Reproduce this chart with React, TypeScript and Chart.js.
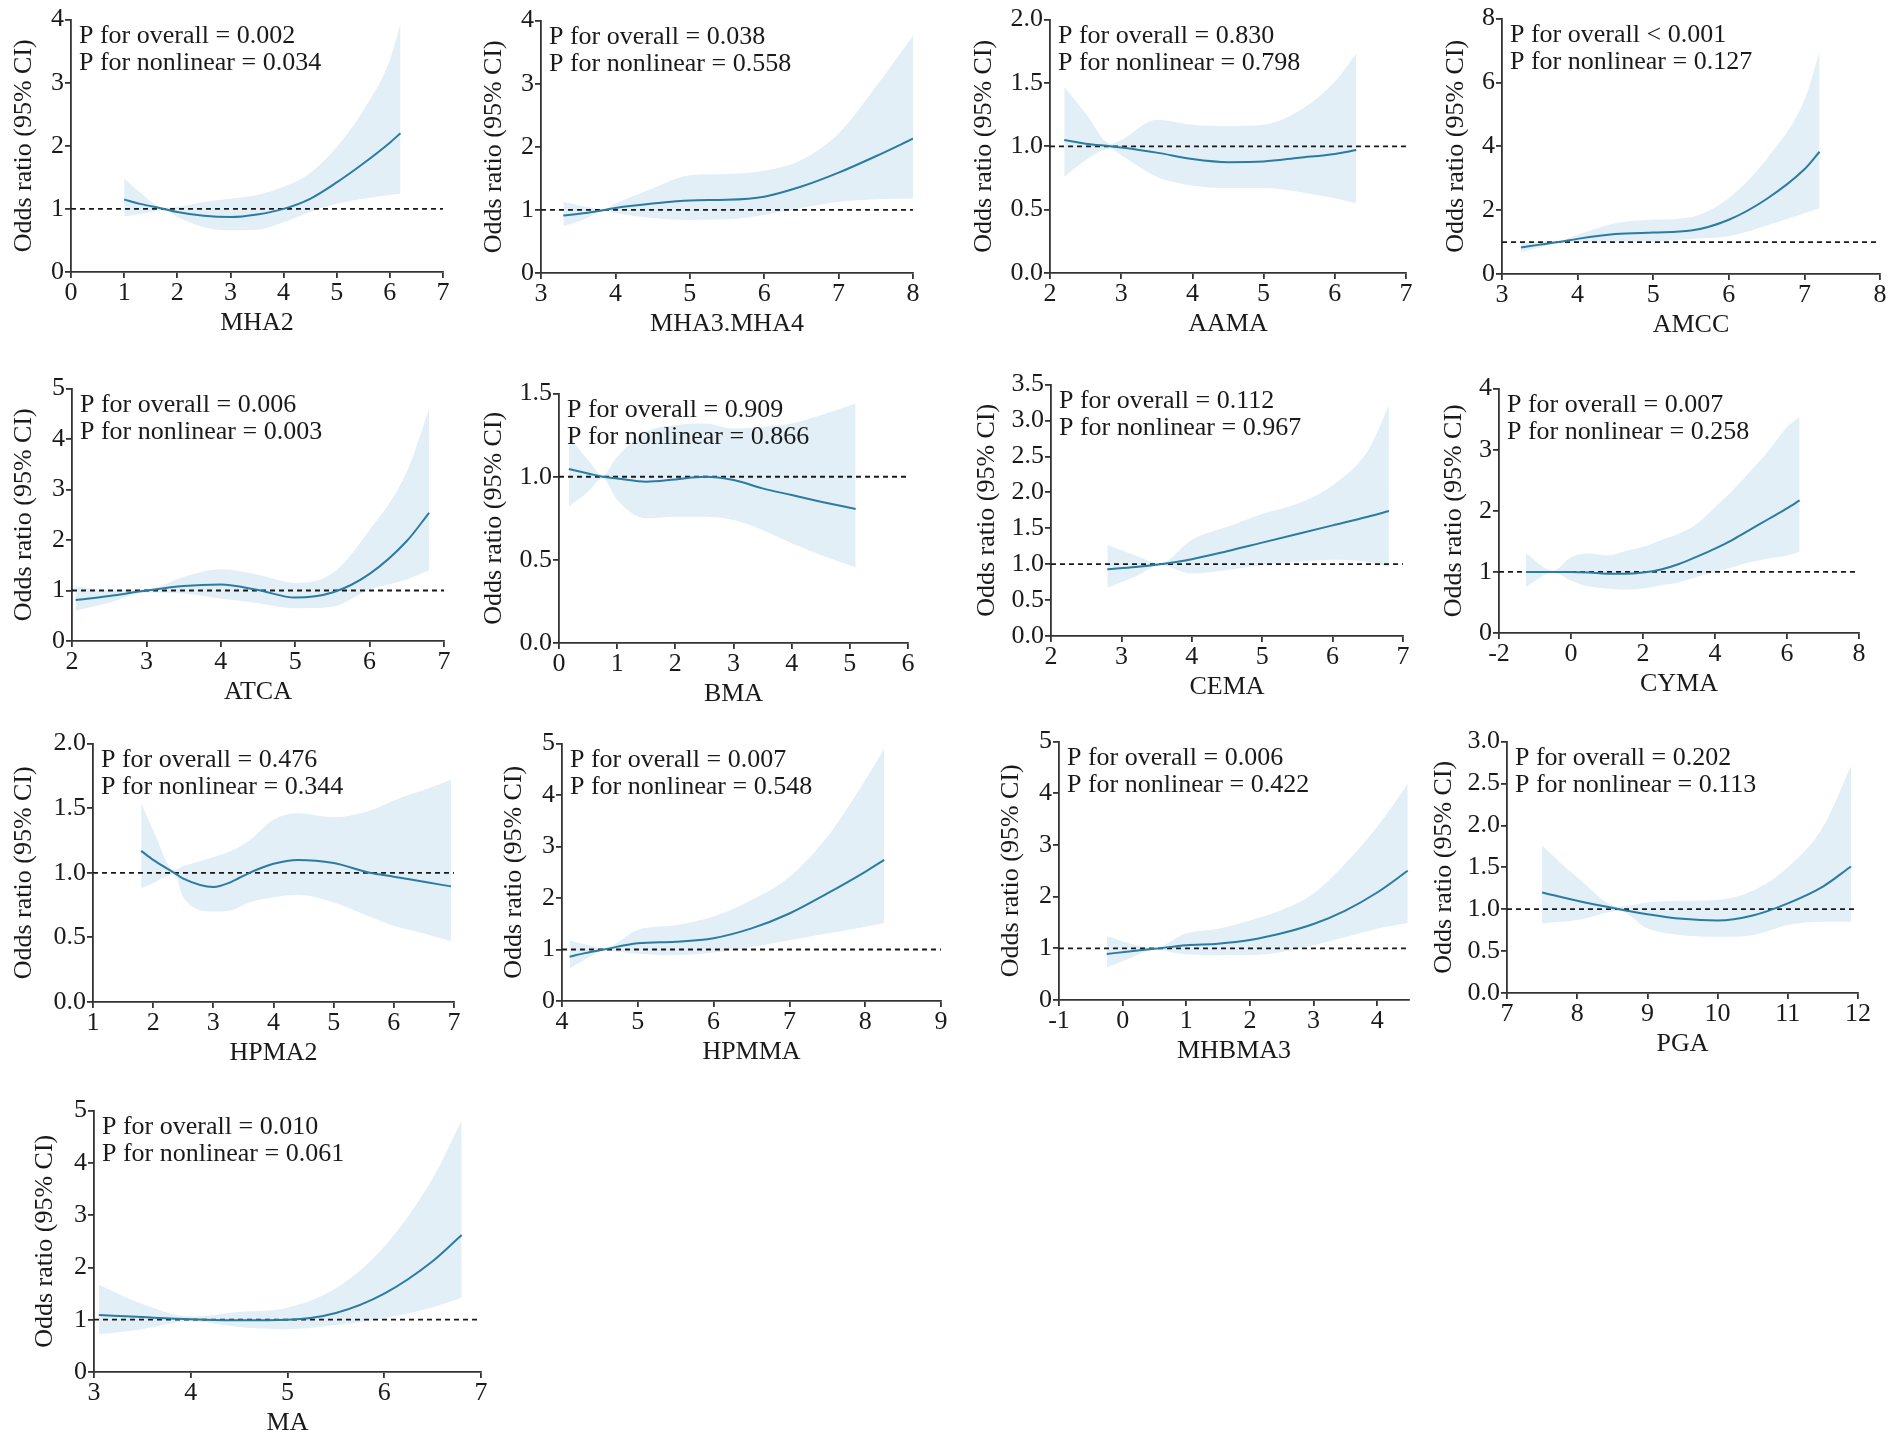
import React, { useEffect, useRef } from "react";
import { Chart, registerables } from "chart.js";

Chart.register(...registerables);

// ---------- data ----------
const mha2X = [1.0, 1.3, 1.75, 2.0, 2.5, 3.0, 3.5, 4.0, 4.5, 5.0, 5.5, 6.0, 6.2];
const mha2Or = [1.15, 1.08, 1.0, 0.95, 0.89, 0.87, 0.91, 1.0, 1.16, 1.42, 1.72, 2.05, 2.2];
const mha2Lo = [0.88, 0.92, 0.98, 0.87, 0.71, 0.66, 0.67, 0.79, 0.95, 1.08, 1.16, 1.22, 1.24];
const mha2Hi = [1.48, 1.26, 1.02, 1.03, 1.11, 1.16, 1.22, 1.35, 1.57, 1.98, 2.56, 3.36, 3.94];

const mha34X = [3.3, 3.6, 3.85, 4.0, 4.5, 5.0, 5.5, 6.0, 6.5, 7.0, 7.5, 8.0];
const mha34Or = [0.91, 0.95, 1.0, 1.03, 1.1, 1.15, 1.16, 1.21, 1.37, 1.59, 1.85, 2.13];
const mha34Lo = [0.74, 0.86, 0.99, 0.95, 0.87, 0.84, 0.85, 0.92, 1.03, 1.13, 1.17, 1.18];
const mha34Hi = [1.13, 1.05, 1.01, 1.1, 1.34, 1.55, 1.57, 1.62, 1.79, 2.21, 2.95, 3.76];

const aamaX = [2.2, 2.5, 2.85, 3.0, 3.5, 4.0, 4.5, 5.0, 5.5, 6.0, 6.3];
const aamaOr = [1.05, 1.02, 1.0, 0.99, 0.95, 0.9, 0.875, 0.88, 0.91, 0.94, 0.97];
const aamaLo = [0.76, 0.89, 0.98, 0.93, 0.76, 0.69, 0.67, 0.67, 0.64, 0.59, 0.55];
const aamaHi = [1.47, 1.26, 1.02, 1.05, 1.21, 1.17, 1.16, 1.17, 1.28, 1.51, 1.73];

const amccX = [3.25, 3.5, 3.75, 4.0, 4.5, 5.0, 5.5, 6.0, 6.5, 7.0, 7.2];
const amccOr = [0.83, 0.92, 1.0, 1.1, 1.25, 1.3, 1.36, 1.7, 2.35, 3.28, 3.83];
const amccLo = [0.69, 0.83, 0.97, 1.0, 1.02, 1.02, 1.1, 1.18, 1.52, 1.9, 2.06];
const amccHi = [0.99, 1.01, 1.03, 1.23, 1.59, 1.7, 1.78, 2.38, 3.6, 5.45, 6.96];

const atcaX = [2.05, 2.5, 3.0, 3.5, 4.0, 4.5, 5.0, 5.5, 6.0, 6.5, 6.8];
const atcaOr = [0.81, 0.89, 1.0, 1.09, 1.12, 1.01, 0.86, 0.96, 1.33, 1.98, 2.54];
const atcaLo = [0.6, 0.76, 0.96, 0.94, 0.84, 0.75, 0.65, 0.68, 1.02, 1.22, 1.4];
const atcaHi = [1.08, 1.01, 1.02, 1.27, 1.42, 1.31, 1.15, 1.34, 2.2, 3.35, 4.6];

const bmaX = [0.17, 0.5, 0.75, 1.0, 1.5, 2.0, 2.5, 3.0, 3.5, 4.0, 4.5, 5.1];
const bmaOr = [1.046, 1.02, 1.0, 0.99, 0.97, 0.984, 1.0, 0.98, 0.93, 0.89, 0.85, 0.806];
const bmaLo = [0.82, 0.91, 0.99, 0.86, 0.75, 0.76, 0.76, 0.74, 0.68, 0.6, 0.53, 0.456];
const bmaHi = [1.24, 1.1, 1.01, 1.12, 1.27, 1.31, 1.32, 1.29, 1.3, 1.32, 1.37, 1.44];

const cemaX = [2.8, 3.2, 3.55, 4.0, 4.5, 5.0, 5.5, 6.0, 6.5, 6.8];
const cemaOr = [0.93, 0.96, 1.0, 1.07, 1.18, 1.3, 1.42, 1.54, 1.66, 1.74];
const cemaLo = [0.67, 0.83, 0.99, 0.87, 0.92, 0.99, 1.03, 1.06, 1.03, 0.96];
const cemaHi = [1.27, 1.12, 1.01, 1.34, 1.52, 1.7, 1.84, 2.1, 2.58, 3.21];

const cymaX = [-1.25, -0.5, 0, 0.5, 1, 1.5, 2, 2.5, 3, 3.5, 4, 4.5, 5, 5.5, 6, 6.35];
const cymaOr = [1.0, 1.0, 1.0, 0.99, 0.97, 0.97, 0.99, 1.04, 1.13, 1.25, 1.38, 1.53, 1.7, 1.87, 2.04, 2.17];
const cymaLo = [0.76, 0.99, 0.86, 0.76, 0.73, 0.71, 0.73, 0.78, 0.83, 0.92, 1.0, 1.08, 1.16, 1.22, 1.27, 1.33];
const cymaHi = [1.3, 1.02, 1.24, 1.3, 1.27, 1.34, 1.41, 1.52, 1.63, 1.79, 2.06, 2.34, 2.66, 2.99, 3.37, 3.54];

const hpma2X = [1.8, 2.0, 2.35, 2.5, 3.0, 3.3, 3.6, 4.0, 4.4, 5.0, 5.6, 6.0, 6.5, 6.95];
const hpma2Or = [1.17, 1.1, 1.0, 0.955, 0.89, 0.93, 1.0, 1.07, 1.1, 1.076, 1.0, 0.97, 0.93, 0.895];
const hpma2Lo = [0.88, 0.92, 0.99, 0.81, 0.7, 0.71, 0.77, 0.81, 0.83, 0.77, 0.66, 0.59, 0.53, 0.47];
const hpma2Hi = [1.54, 1.33, 1.02, 1.05, 1.12, 1.17, 1.25, 1.41, 1.46, 1.43, 1.48, 1.56, 1.64, 1.72];

const hpmmaX = [4.1, 4.3, 4.55, 5.0, 5.5, 6.0, 6.5, 7.0, 7.5, 8.0, 8.25];
const hpmmaOr = [0.86, 0.93, 1.0, 1.12, 1.15, 1.22, 1.41, 1.7, 2.09, 2.51, 2.74];
const hpmmaLo = [0.63, 0.8, 0.97, 0.92, 0.89, 0.94, 1.05, 1.18, 1.31, 1.44, 1.51];
const hpmmaHi = [1.18, 1.1, 1.03, 1.38, 1.47, 1.64, 1.96, 2.41, 3.19, 4.29, 4.9];

const mhbma3X = [-0.25, 0.1, 0.5, 1.0, 1.5, 2.0, 2.5, 3.0, 3.5, 4.0, 4.48];
const mhbma3Or = [0.89, 0.94, 0.99, 1.06, 1.09, 1.16, 1.29, 1.47, 1.73, 2.08, 2.5];
const mhbma3Lo = [0.63, 0.8, 0.97, 0.88, 0.87, 0.87, 0.93, 1.06, 1.22, 1.38, 1.49];
const mhbma3Hi = [1.24, 1.1, 1.01, 1.29, 1.38, 1.54, 1.74, 2.06, 2.64, 3.35, 4.18];

const pgaX = [7.5, 8.0, 8.6, 9.0, 9.5, 10.0, 10.5, 11.0, 11.5, 11.9];
const pgaOr = [1.2, 1.1, 1.0, 0.94, 0.885, 0.865, 0.925, 1.07, 1.27, 1.51];
const pgaLo = [0.83, 0.87, 0.98, 0.77, 0.69, 0.67, 0.69, 0.81, 0.85, 0.85];
const pgaHi = [1.76, 1.38, 1.03, 1.08, 1.1, 1.11, 1.22, 1.5, 1.98, 2.71];

const maX = [3.05, 3.5, 4.0, 4.5, 5.0, 5.5, 6.0, 6.5, 6.8];
const maOr = [1.09, 1.05, 1.01, 0.99, 1.0, 1.13, 1.5, 2.12, 2.62];
const maLo = [0.72, 0.82, 0.97, 0.86, 0.82, 0.9, 1.03, 1.24, 1.42];
const maHi = [1.67, 1.3, 1.06, 1.15, 1.23, 1.6, 2.4, 3.7, 4.81];

// tick labels
const ticks0to7 = [0, 1, 2, 3, 4, 5, 6, 7];
const ticks3to8 = [3, 4, 5, 6, 7, 8];
const ticks2to7 = [2, 3, 4, 5, 6, 7];
const ticks0to6 = [0, 1, 2, 3, 4, 5, 6];
const ticksM2to8 = [-2, 0, 2, 4, 6, 8];
const ticks1to7 = [1, 2, 3, 4, 5, 6, 7];
const ticks4to9 = [4, 5, 6, 7, 8, 9];
const ticksM1to4 = [-1, 0, 1, 2, 3, 4];
const ticks7to12 = [7, 8, 9, 10, 11, 12];
const ticks3to7 = [3, 4, 5, 6, 7];
const yTicks4 = [0, 1, 2, 3, 4];
const yTicks5 = [0, 1, 2, 3, 4, 5];
const yTicks8 = [0, 2, 4, 6, 8];
const yTicks2h = [0, 0.5, 1.0, 1.5, 2.0];
const yTicks15h = [0, 0.5, 1.0, 1.5];
const yTicks35h = [0, 0.5, 1.0, 1.5, 2.0, 2.5, 3.0, 3.5];
const yTicks3h = [0, 0.5, 1.0, 1.5, 2.0, 2.5, 3.0];

const names = ["MHA2", "MHA3.MHA4", "AAMA", "AMCC", "ATCA", "BMA", "CEMA", "CYMA", "HPMA2", "HPMMA", "MHBMA3", "PGA", "MA"];
const pOverall = ["= 0.002", "= 0.038", "= 0.830", "< 0.001", "= 0.006", "= 0.909", "= 0.112", "= 0.007", "= 0.476", "= 0.007", "= 0.006", "= 0.202", "= 0.010"];
const pNonlinear = ["0.034", "0.558", "0.798", "0.127", "0.003", "0.866", "0.967", "0.258", "0.344", "0.548", "0.422", "0.113", "0.061"];

const series = [
  [mha2X, mha2Or, mha2Lo, mha2Hi],
  [mha34X, mha34Or, mha34Lo, mha34Hi],
  [aamaX, aamaOr, aamaLo, aamaHi],
  [amccX, amccOr, amccLo, amccHi],
  [atcaX, atcaOr, atcaLo, atcaHi],
  [bmaX, bmaOr, bmaLo, bmaHi],
  [cemaX, cemaOr, cemaLo, cemaHi],
  [cymaX, cymaOr, cymaLo, cymaHi],
  [hpma2X, hpma2Or, hpma2Lo, hpma2Hi],
  [hpmmaX, hpmmaOr, hpmmaLo, hpmmaHi],
  [mhbma3X, mhbma3Or, mhbma3Lo, mhbma3Hi],
  [pgaX, pgaOr, pgaLo, pgaHi],
  [maX, maOr, maLo, maHi],
];
const xTickSets = [ticks0to7, ticks3to8, ticks2to7, ticks3to8, ticks2to7, ticks0to6, ticks2to7, ticksM2to8, ticks1to7, ticks4to9, ticksM1to4, ticks7to12, ticks3to7];
const yTickSets = [yTicks4, yTicks4, yTicks2h, yTicks8, yTicks5, yTicks15h, yTicks35h, yTicks4, yTicks2h, yTicks5, yTicks5, yTicks3h, yTicks5];
const xMaxes = [7, 8, 7, 8, 7, 6, 7, 8, 7, 9, 4.5, 12, 7];

// ---------- layout (plot area in page pixels) ----------
const LAYOUT = [
  { L: 71, R: 443, T: 19, B: 272, td: 46 },
  { L: 541, R: 913, T: 20, B: 273, td: 46 },
  { L: 1050, R: 1406, T: 19, B: 273, td: 65 },
  { L: 1502, R: 1880, T: 18, B: 274, td: 45 },
  { L: 72, R: 444, T: 388, B: 641, td: 47 },
  { L: 559, R: 908, T: 393, B: 643, td: 64 },
  { L: 1051, R: 1403, T: 384, B: 636, td: 63 },
  { L: 1499, R: 1859, T: 388, B: 633, td: 44 },
  { L: 93, R: 454, T: 743, B: 1002, td: 68 },
  { L: 562, R: 941, T: 743, B: 1001, td: 47 },
  { L: 1059, R: 1409, T: 741, B: 1000, td: 47 },
  { L: 1507, R: 1858, T: 741, B: 993, td: 62 },
  { L: 94, R: 481, T: 1110, B: 1372, td: 48 },
];

const FONT = "'Liberation Serif', 'Times New Roman', serif";
const FS = 26;
const LINE = "#2c7ba0";
const BAND = "#e2eff7";
const AX = "#333333";
const PAD_T = 16;
const PAD_R = 22;
const PAD_B = 67;

function Panel({ idx }: { idx: number }) {
  const ref = useRef<HTMLCanvasElement | null>(null);
  const lay = LAYOUT[idx];
  const padL = lay.td + 16;
  const width = lay.R - lay.L + padL + PAD_R;
  const height = lay.B - lay.T + PAD_T + PAD_B;

  useEffect(() => {
    if (!ref.current) return;
    const [xs, est, lo, hi] = series[idx];
    const xt = xTickSets[idx];
    const yt = yTickSets[idx];
    const dec = yt.some((v) => !Number.isInteger(v)) ? 1 : 0;
    const font = { family: FONT, size: FS };

    const textPlugin = {
      id: "ptext" + idx,
      afterDraw(chart: any) {
        const { ctx, chartArea } = chart;
        ctx.save();
        ctx.fillStyle = "#1a1a1a";
        ctx.font = `${FS}px ${FONT}`;
        ctx.textAlign = "left";
        ctx.textBaseline = "alphabetic";
        ctx.fillText(`P for overall ${pOverall[idx]}`, chartArea.left + 8, chartArea.top + 23);
        ctx.fillText(`P for nonlinear = ${pNonlinear[idx]}`, chartArea.left + 8, chartArea.top + 50);
        ctx.restore();
      },
    };

    const chart = new Chart(ref.current, {
      type: "line",
      data: {
        datasets: [
          {
            data: xs.map((x, i) => ({ x, y: est[i] })),
            borderColor: LINE,
            borderWidth: 2,
            pointRadius: 0,
            cubicInterpolationMode: "monotone",
            fill: false,
          },
          {
            data: [
              { x: xt[0], y: 1 },
              { x: xMaxes[idx], y: 1 },
            ],
            borderColor: "#1a1a1a",
            borderWidth: 1.8,
            borderDash: [5, 4],
            pointRadius: 0,
            fill: false,
          },
          {
            data: xs.map((x, i) => ({ x, y: hi[i] })),
            borderWidth: 0,
            borderColor: "rgba(0,0,0,0)",
            backgroundColor: BAND,
            pointRadius: 0,
            cubicInterpolationMode: "monotone",
            fill: "+1",
          },
          {
            data: xs.map((x, i) => ({ x, y: lo[i] })),
            borderWidth: 0,
            borderColor: "rgba(0,0,0,0)",
            pointRadius: 0,
            cubicInterpolationMode: "monotone",
            fill: false,
          },
        ],
      },
      options: {
        animation: false,
        responsive: true,
        maintainAspectRatio: false,
        events: [],
        layout: { padding: { top: PAD_T, right: PAD_R, left: 0, bottom: 0 } },
        plugins: { legend: { display: false }, tooltip: { enabled: false }, title: { display: false } },
        scales: {
          x: {
            type: "linear",
            min: xt[0],
            max: xMaxes[idx],
            afterBuildTicks: (s: any) => {
              s.ticks = xt.map((v) => ({ value: v }));
            },
            afterFit: (s: any) => {
              s.height = PAD_B;
            },
            ticks: {
              font,
              color: "#1a1a1a",
              padding: 0,
              maxRotation: 0,
              autoSkip: false,
              callback: (v: any) => String(v),
            },
            grid: { drawOnChartArea: false, drawTicks: true, tickLength: 6, color: AX, lineWidth: 1.8 },
            border: { display: true, color: AX, width: 1.8 },
            title: { display: true, text: names[idx], font, color: "#1a1a1a", padding: 0 },
          },
          y: {
            type: "linear",
            min: yt[0],
            max: yt[yt.length - 1],
            afterBuildTicks: (s: any) => {
              s.ticks = yt.map((v) => ({ value: v }));
            },
            afterFit: (s: any) => {
              s.width = padL;
            },
            ticks: {
              font,
              color: "#1a1a1a",
              padding: 1,
              autoSkip: false,
              callback: (v: any) => Number(v).toFixed(dec),
            },
            grid: { drawOnChartArea: false, drawTicks: true, tickLength: 6, color: AX, lineWidth: 1.8 },
            border: { display: true, color: AX, width: 1.8 },
            title: { display: true, text: "Odds ratio (95% CI)", font, color: "#1a1a1a", padding: 0 },
          },
        },
      },
      plugins: [textPlugin],
    } as any);
    return () => chart.destroy();
  }, [idx]);

  return (
    <div
      style={{
        position: "absolute",
        left: lay.L - padL,
        top: lay.T - PAD_T,
        width,
        height,
      }}
    >
      <canvas ref={ref} />
    </div>
  );
}

export default function App() {
  return (
    <div style={{ position: "absolute", left: 0, top: 0, width: 1902, height: 1446, background: "#ffffff" }}>
      {LAYOUT.map((_, i) => (
        <Panel key={i} idx={i} />
      ))}
    </div>
  );
}
